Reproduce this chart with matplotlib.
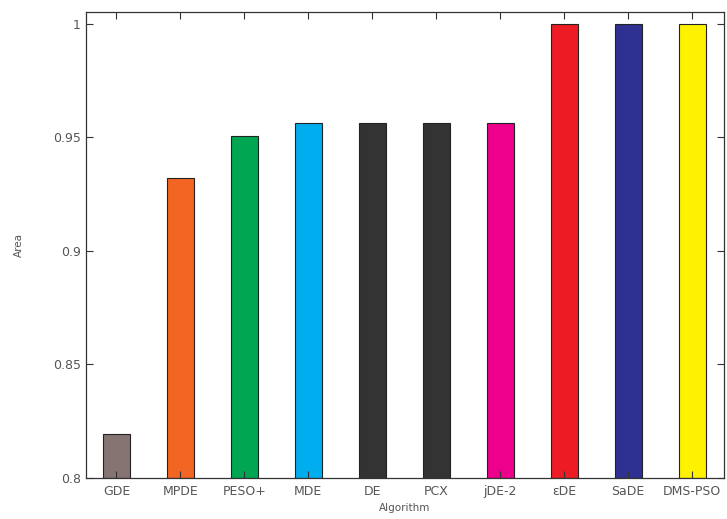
import numpy as np
import matplotlib
matplotlib.use('Agg')
import matplotlib.pyplot as plt
from matplotlib.ticker import FixedLocator, FuncFormatter

# data
algorithms = ['GDE', 'MPDE', 'PESO+', 'MDE', 'DE', 'PCX', 'jDE-2', 'εDE', 'SaDE', 'DMS-PSO']
area = [0.8194, 0.932, 0.9507, 0.9565, 0.9565, 0.9565, 0.9565, 1.0, 1.0, 1.0]
bar_colors = ['#857472', '#f26522', '#00a651', '#00aeef', '#333333',
              '#333333', '#ec008c', '#ed1c24', '#2e3192', '#fff200']
y_ticks = [0.8, 0.85, 0.9, 0.95, 1.0]

text_col = '#555555'
plt.rcParams['font.family'] = ['DejaVu Sans']

fig = plt.figure(figsize=(7.27, 5.19), dpi=100)
ax = fig.add_axes([0.118, 0.079, 0.878, 0.898])

x = np.arange(len(algorithms))
ax.bar(x, [v - 0.8 for v in area], bottom=0.8, width=0.42,
       color=bar_colors, edgecolor='#222222', linewidth=0.8)

ax.set_xlim(-0.48, 9.5)
ax.set_ylim(0.8, 1.0053)
ax.set_xticks(x)
ax.set_xticklabels(algorithms, fontsize=9, color=text_col)
ax.yaxis.set_major_locator(FixedLocator(y_ticks))
ax.yaxis.set_major_formatter(FuncFormatter(lambda v, p: f'{v:g}'))
ax.tick_params(axis='y', labelsize=9, labelcolor=text_col)
ax.tick_params(direction='in', length=5, width=0.8, color='#333333',
               top=True, right=True)
ax.tick_params(axis='x', pad=5)

for spine in ax.spines.values():
    spine.set_linewidth(0.9)
    spine.set_color('#333333')

ax.set_xlabel('Algorithm', fontsize=7.5, color=text_col, labelpad=4)
ax.set_ylabel('Area', fontsize=7.5, color=text_col, labelpad=21)

fig.savefig('out.png', dpi=100)
